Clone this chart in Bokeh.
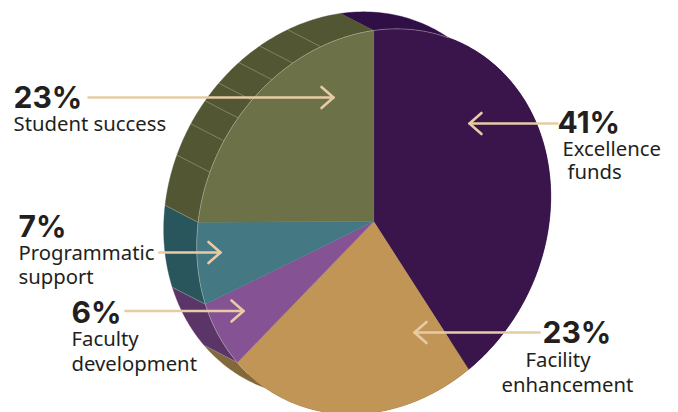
import numpy as np
from bokeh.core.properties import value
from bokeh.embed import file_html
from bokeh.models import Range1d
from bokeh.plotting import figure
from bokeh.resources import INLINE

# Funding shares, clockwise from twelve o'clock
categories = ["Excellence funds", "Facility enhancement", "Faculty development",
              "Programmatic support", "Student success"]
shares = [41, 23, 6, 7, 23]
top_colors = ["#3a154c", "#c09555", "#855394", "#447984", "#6c7148"]
side_colors = ["#2f0f46", "#83683a", "#5b3468", "#29555c", "#525632"]

# Facet seams on the rim of the student success slice, in degrees clockwise from the top
rim_seams = [342.6, 332.8, 324.9, 316.5, 310.0, 302.2, 292.3]

# The tilted disc: centre, the two projected radius vectors, and the extrusion offset
centre = np.array([373.2, 221.0])
radius_u = np.array([177.0, -25.0])
radius_v = np.array([0.0, -191.0])
depth = np.array([-33.0, -17.0])


def disc(theta_deg):
    t = np.radians(np.asarray(theta_deg, dtype=float))
    return (centre[0] + radius_u[0] * np.sin(t) + radius_v[0] * np.cos(t),
            centre[1] + radius_u[1] * np.sin(t) + radius_v[1] * np.cos(t))


p = figure(width=678, height=412, output_backend="svg", toolbar_location=None,
           x_range=Range1d(0, 678), y_range=Range1d(412, 0),
           x_axis_location=None, y_axis_location=None,
           min_border=0, min_border_left=0, min_border_right=0,
           min_border_top=0, min_border_bottom=0,
           outline_line_color=None, background_fill_color="white")
p.grid.visible = False

edges = np.cumsum([0] + shares) / sum(shares) * 360.0
side_xs, side_ys, top_xs, top_ys = [], [], [], []
for a, b in zip(edges[:-1], edges[1:]):
    th = np.linspace(a, b, 120)
    x, y = disc(th)
    side_xs.append(np.concatenate([x, x[::-1] + depth[0]]))
    side_ys.append(np.concatenate([y, y[::-1] + depth[1]]))
    top_xs.append(np.concatenate([[centre[0]], x]))
    top_ys.append(np.concatenate([[centre[1]], y]))

p.patches(side_xs, side_ys, fill_color=side_colors, line_color=side_colors, line_width=0.4)

# Pale hairlines where rim slices and facets meet
seam_angles = rim_seams + [edges[2], edges[3], edges[4]]
seam_x, seam_y = disc(seam_angles)
p.multi_line([[sx, sx + depth[0]] for sx in seam_x], [[sy, sy + depth[1]] for sy in seam_y],
             line_color="#c9cdb4", line_width=0.7, line_alpha=0.55)

p.patches(top_xs, top_ys, fill_color=top_colors, line_color=top_colors, line_width=0.4)

# Light highlight along the raised edge of the disc
edge_x, edge_y = disc(np.linspace(edges[2] - 5, 385, 240))
p.line(edge_x, edge_y, line_color="#d8d8c8", line_width=0.7, line_alpha=0.6)

# Leader arrows: tail x, tip x, y
arrows = [(88, 333, 97), (557, 469, 123), (539, 414, 332), (159, 220, 252), (125, 243, 310.5)]
arrow_color = "#e6cba4"
for tail, tip, y in arrows:
    back = tip - 12 if tip > tail else tip + 12
    p.line([tail, tip], [y, y], line_color=arrow_color, line_width=2.6, line_cap="round")
    p.line([back, tip, back], [y - 10.5, y, y + 10.5], line_color=arrow_color,
           line_width=2.6, line_cap="round", line_join="round")

# Percent figures and their captions
percent_x = [557, 542, 71, 18, 13]
percent_y = [132, 342, 322, 236, 107]
p.text(percent_x, percent_y, text=[f"{s}%" for s in shares], text_color="#231f20",
       text_font=value("Inter"), text_font_style="bold", text_font_size="30px",
       text_align="left", text_baseline="alphabetic", y_offset=-11)

caption_text = ["Excellence", "funds", "Facility", "enhancement", "Faculty", "development",
                "Programmatic", "support", "Student success"]
caption_x = [562, 567, 525, 501, 71, 71, 18, 18, 13]
caption_y = [157, 180, 368, 393, 347, 372, 261, 285, 132]
p.text(caption_x, caption_y, text=caption_text, text_color="#231f20",
       text_font=value("Noto Sans"), text_font_size="20.3px",
       text_align="left", text_baseline="alphabetic", y_offset=-9.5)

open("out.html", "w").write(file_html(p, INLINE))
